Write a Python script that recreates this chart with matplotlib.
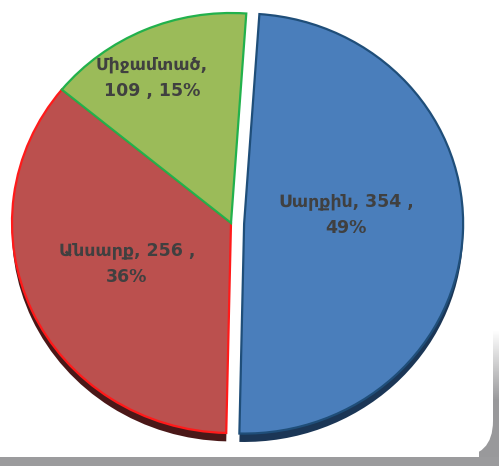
import numpy as np
import matplotlib
matplotlib.use("Agg")
import matplotlib.pyplot as plt
from matplotlib.patches import FancyBboxPatch, Rectangle

# Data
categories = ["Սարքին", "Անսարք", "Միջամտած"]
values = [354, 256, 109]
percents = ["49%", "36%", "15%"]

fill_colors = ["#4a7ebb", "#bb504e", "#9bbb59"]
edge_colors = ["#1f4e79", "#ff1a1a", "#22b14c"]
shadow_colors = ["#1b3656", "#4a1818", "#ffffff00"]
label_dist = [0.468, 0.513, 0.781]
label_ang_off = [7.8, -2.6, 4.2]

W, H = 499, 466
fig = plt.figure(figsize=(W / 100, H / 100), dpi=100)
fig.patch.set_facecolor("white")

# Background frame (gray border at bottom/right with rounded white corner)
bg = fig.add_axes([0, 0, 1, 1], zorder=0)
bg.set_xlim(0, W)
bg.set_ylim(H, 0)
bg.axis("off")
grad = np.zeros((H, 20, 4))
ys = np.arange(H)
alpha = np.clip((ys - 330) / 70.0, 0, 1)
grad[..., 0] = 0.60
grad[..., 1] = 0.60
grad[..., 2] = 0.61
grad[..., 3] = alpha[:, None]
bg.imshow(grad, extent=(W - 20, W, H, 0), aspect="auto", zorder=0)
bg.add_patch(Rectangle((0, 457), W, 9, facecolor="#9b9b9d", edgecolor="none", zorder=1))
bg.add_patch(FancyBboxPatch((-60, -60), 553, 517,
                            boxstyle="round,pad=0,rounding_size=36",
                            facecolor="white", edgecolor="none", zorder=2))

# Pie
ax = fig.add_axes([0, 0, 1, 1], zorder=1)
ax.patch.set_alpha(0)

cx, cy = 231, 223
rx, ry = 219, 210
start = 86.0
explode = [0.06, 0, 0]

labels = [f"{c}, {v} ,\n{p}" if i < 2 else f"{c},\n{v} , {p}"
          for i, (c, v, p) in enumerate(zip(categories, values, percents))]

# shadow copy
sw, _ = ax.pie(values, colors=shadow_colors, startangle=start, counterclock=False,
               explode=explode, center=(0.0, -0.04),
               wedgeprops=dict(linewidth=0))
for w in sw:
    w.set_zorder(1)

wedges, texts = ax.pie(values, colors=fill_colors, startangle=start, counterclock=False,
                       explode=explode, labels=labels, labeldistance=0.5,
                       textprops=dict(color="#404040", fontsize=12.5, fontweight="bold",
                                      ha="center", va="center", family="DejaVu Sans",
                                      linespacing=1.6),
                       wedgeprops=dict(linewidth=1.6))
for w, ec in zip(wedges, edge_colors):
    w.set_edgecolor(ec)
    w.set_zorder(2)

for w, t, d, off in zip(wedges, texts, label_dist, label_ang_off):
    mid = np.deg2rad((w.theta1 + w.theta2) / 2 + off)
    x0, y0 = w.center
    t.set_position((x0 + d * np.cos(mid), y0 + d * np.sin(mid)))
    t.set_ha("center")
    t.set_va("center")
    t.set_zorder(5)

ax.set_aspect("auto")
ax.set_xlim(-cx / rx, (W - cx) / rx)
ax.set_ylim(-(H - cy) / ry, cy / ry)
ax.axis("off")

fig.savefig("out.png", dpi=100, facecolor="white")
